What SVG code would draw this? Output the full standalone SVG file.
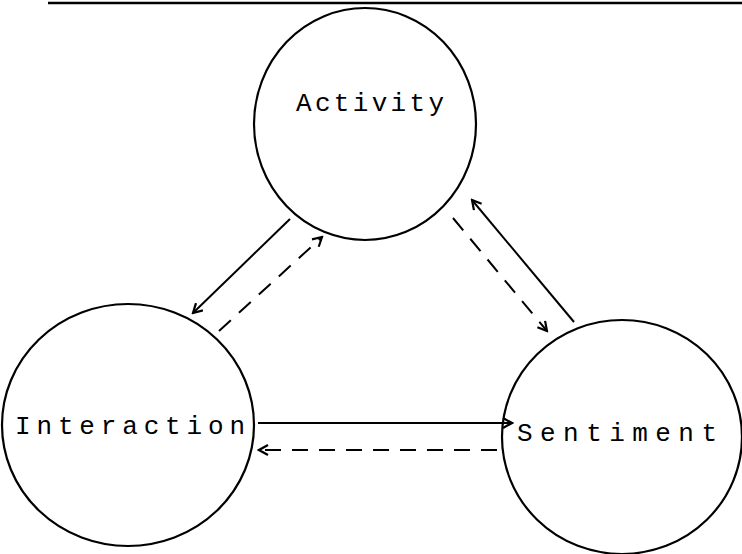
<svg xmlns="http://www.w3.org/2000/svg" width="742" height="554" viewBox="0 0 742 554">
<style>
.n{fill:none;stroke:#000;stroke-width:2.2}
.t{font-family:"Liberation Mono","Courier New",monospace;font-size:26px;fill:#000}
.c{stroke:#000;stroke-width:2;fill:none}
.d{stroke-dasharray:16,11}
</style>
<defs>
<marker id="a" markerWidth="12" markerHeight="12" refX="10" refY="6" orient="auto" markerUnits="userSpaceOnUse">
<path d="M1,1 L10,6 L1,11" fill="none" stroke="#000" stroke-width="2.2"/>
</marker>
</defs>
<rect width="742" height="554" fill="#fff"/>
<line x1="48" y1="3" x2="742" y2="3" stroke="#000" stroke-width="2.5"/>
<g id="activity">
<ellipse class="n" cx="365" cy="124" rx="111" ry="116"/>
<text class="t" x="296" y="111" textLength="148" lengthAdjust="spacing">Activity</text>
</g>
<g id="interaction">
<ellipse class="n" cx="128" cy="425" rx="126" ry="121"/>
<text class="t" x="15" y="434" textLength="230" lengthAdjust="spacing">Interaction</text>
</g>
<g id="sentiment">
<ellipse class="n" cx="622" cy="437" rx="120" ry="117"/>
<text class="t" x="517" y="441" textLength="200" lengthAdjust="spacing">Sentiment</text>
</g>
<g id="connectors">
<line class="c" x1="290" y1="219" x2="193" y2="313" marker-end="url(#a)"/>
<line class="c d" x1="219" y1="331" x2="322" y2="237" marker-end="url(#a)"/>
<line class="c" x1="574" y1="322" x2="472" y2="200" marker-end="url(#a)"/>
<line class="c d" x1="453" y1="218" x2="547" y2="331" marker-end="url(#a)"/>
<line class="c" x1="258" y1="423" x2="512" y2="423" marker-end="url(#a)"/>
<line class="c d" x1="497" y1="450" x2="259" y2="450" marker-end="url(#a)"/>
</g>
</svg>
